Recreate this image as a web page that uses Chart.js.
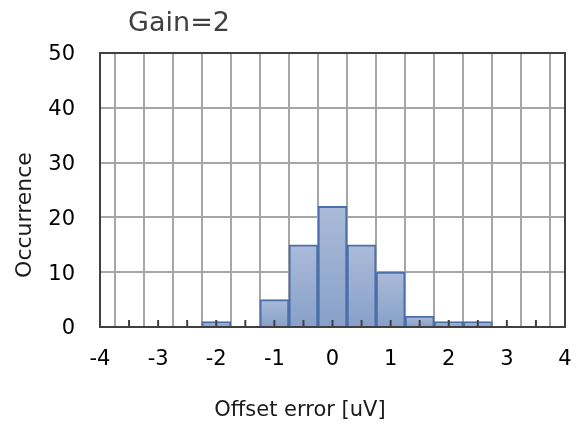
<!DOCTYPE html>
<html lang="en">
<head>
    <meta charset="UTF-8">
    <title>Gain=2</title>
    <script src="https://cdn.jsdelivr.net/npm/chart.js"></script>
    <style>
        body { margin: 0; background: #fff; }
        #wrap { width: 581px; height: 430px; }
    </style>
</head>
<body>
<div id="wrap"><canvas id="hist" width="581" height="430"></canvas></div>
<script>
    // histogram data (bin centre in uV, count)
    const binCenters = [-2, -1, -0.5, 0, 0.5, 1, 1.5, 2, 2.5];
    const counts = [1, 5, 15, 22, 15, 10, 2, 1, 1];

    const chartTitle = 'Gain=2';
    const xTitle = 'Offset error [uV]';
    const yTitle = 'Occurrence';
    const xMin = -4, xMax = 4, xStep = 0.5;
    const yMin = 0, yMax = 50, yStep = 10;

    const FONT = '"DejaVu Sans", Verdana, sans-serif';

    const points = binCenters.map((x, i) => ({ x: x, y: counts[i] }));

    // per-bar gradient like the Excel fill
    function barFill(ctx) {
        const chart = ctx.chart;
        const area = chart.chartArea;
        if (!area || !ctx.parsed) return '#98abd0';
        const ys = chart.scales.y;
        const top = ys.getPixelForValue(ctx.parsed.y);
        const bottom = ys.getPixelForValue(0);
        if (!(bottom > top)) return '#98abd0';
        const g = chart.ctx.createLinearGradient(0, top, 0, bottom);
        g.addColorStop(0, '#abbbd9');
        g.addColorStop(1, '#87a0c9');
        return g;
    }

    // frame, inner tick marks and the text labels
    const decorations = {
        id: 'decorations',
        afterDatasetsDraw(chart) {
            const c = chart.ctx;
            const a = chart.chartArea;
            const xs = chart.scales.x;
            c.save();
            c.strokeStyle = '#404040';
            c.lineWidth = 2;
            xs.ticks.forEach((t) => {
                const px = xs.getPixelForValue(t.value);
                c.beginPath();
                c.moveTo(px, a.bottom);
                c.lineTo(px, a.bottom - 7);
                c.stroke();
            });
            c.strokeRect(a.left, a.top, a.right - a.left, a.bottom - a.top);

            c.fillStyle = '#404040';
            c.font = '27px ' + FONT;
            c.textAlign = 'center';
            c.textBaseline = 'middle';
            c.fillText(chartTitle, 179, 24);

            c.fillStyle = '#1a1a1a';
            c.font = '21px ' + FONT;
            c.fillText(xTitle, 300, 411);

            c.translate(25, 215);
            c.rotate(-Math.PI / 2);
            c.font = '22px ' + FONT;
            c.fillText(yTitle, 0, 0);
            c.restore();
        }
    };

    const ctx = document.getElementById('hist').getContext('2d');
    new Chart(ctx, {
        type: 'bar',
        data: {
            datasets: [{
                data: points,
                backgroundColor: barFill,
                borderColor: '#4a70aa',
                borderWidth: 2,
                barPercentage: 1,
                categoryPercentage: 1
            }]
        },
        options: {
            responsive: false,
            animation: false,
            layout: { padding: { top: 53, right: 16, left: 0, bottom: 0 } },
            plugins: {
                legend: { display: false },
                tooltip: { enabled: false },
                title: { display: false }
            },
            scales: {
                x: {
                    type: 'linear',
                    min: xMin,
                    max: xMax,
                    offset: false,
                    afterFit: (s) => { s.height = 103; s.paddingLeft = 0; s.paddingRight = 0; },
                    grid: { color: '#a6a6a6', lineWidth: 2, drawTicks: false },
                    border: { display: false },
                    ticks: {
                        stepSize: xStep,
                        autoSkip: false,
                        maxRotation: 0,
                        padding: 20,
                        color: '#000',
                        font: { family: FONT, size: 21 },
                        callback: (v) => Number.isInteger(v) ? String(v) : ''
                    }
                },
                y: {
                    min: yMin,
                    max: yMax,
                    afterFit: (s) => { s.width = 100; s.paddingTop = 0; s.paddingBottom = 0; },
                    grid: { color: '#a6a6a6', lineWidth: 2, drawTicks: false },
                    border: { display: false },
                    ticks: {
                        stepSize: yStep,
                        padding: 25,
                        labelOffset: 2,
                        color: '#000',
                        font: { family: FONT, size: 21 }
                    }
                }
            }
        },
        plugins: [decorations]
    });
</script>
</body>
</html>
